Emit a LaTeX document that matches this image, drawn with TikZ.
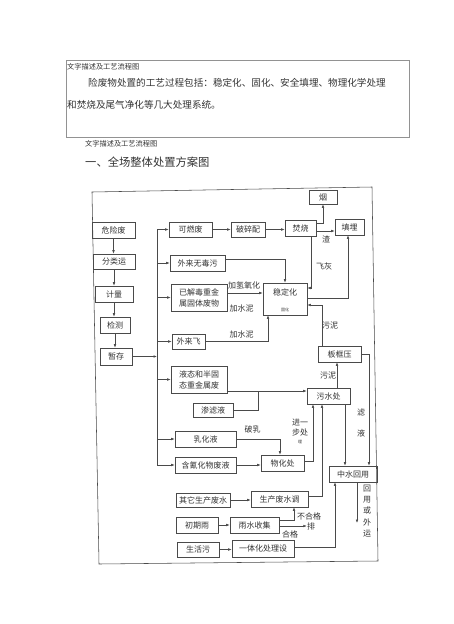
\documentclass[tikz,border=0pt]{standalone}
\usepackage{fontspec}
\newfontfamily\cjk{Noto Sans CJK SC}
\usetikzlibrary{arrows.meta}
\definecolor{ink}{HTML}{4A4A4A}
\definecolor{txt}{HTML}{333333}
\tikzset{
  bx/.style={draw=ink, line width=0.6pt, inner sep=0pt, text=txt, font=\cjk\fontsize{8}{11}\selectfont, align=center},
  ln/.style={draw=ink, line width=0.55pt},
  arr/.style={ln, -{Latex[length=3.5pt,width=2.6pt]}},
  lbl/.style={inner sep=0pt, text=txt, font=\cjk\fontsize{8}{10}\selectfont, align=center},
}
\begin{document}
\begin{tikzpicture}[x=1pt,y=-1pt]
\fill[white] (0,0) rectangle (454,624);
\useasboundingbox (0,0) rectangle (454,624);

% top text box
\draw[draw=ink!60, line width=0.6pt] (66,60) rectangle (409,137);
\node[lbl, anchor=west, font=\cjk\fontsize{7.2}{8}\selectfont] (cap1) at (67,67) {文字描述及工艺流程图};
\node[lbl, anchor=west, font=\cjk\fontsize{9.6}{12}\selectfont] (para1) at (88,83) {险废物处置的工艺过程包括：稳定化、固化、安全填埋、物理化学处理};
\node[lbl, anchor=west, font=\cjk\fontsize{9.6}{12}\selectfont] (para2) at (67,105) {和焚烧及尾气净化等几大处理系统。};
\node[lbl, anchor=west, font=\cjk\fontsize{7.2}{8}\selectfont] (cap2) at (85,144) {文字描述及工艺流程图};
\node[lbl, anchor=west, font=\cjk\fontsize{11.3}{13}\selectfont] (head) at (85,162) {一、全场整体处置方案图};

% outer frame
\draw[ln] (92,192) -- (372,187) -- (378,561) -- (99,564) -- cycle;

% left column
\node[bx, minimum width=43, minimum height=16] (wxf) at (113.5,230) {危险废};
\node[bx, minimum width=42, minimum height=15] (flx) at (114,261.5) {分类运};
\node[bx, minimum width=38, minimum height=16] (jl) at (114,294) {计量};
\node[bx, minimum width=30, minimum height=16] (jc) at (115,325) {检测};
\node[bx, minimum width=32, minimum height=17] (zc) at (116,356.5) {暂存};

% branches
\node[bx, minimum width=43, minimum height=15] (krf) at (190.5,229.5) {可燃废};
\node[bx, minimum width=34, minimum height=15] (psp) at (248,229.5) {破碎配};
\node[bx, minimum width=31, minimum height=16] (fs) at (300.5,228) {焚烧};
\node[bx, minimum width=28, minimum height=14] (yan) at (323,197) {烟};
\node[bx, minimum width=29, minimum height=16] (tm) at (349.5,227) {填埋};
\node[bx, minimum width=55, minimum height=16] (wlw) at (197.5,263) {外来无毒污};
\node[bx, minimum width=56, minimum height=27] (yjd) at (199,297.5) {已解毒重金\\属固体废物};
\node[bx, minimum width=44, minimum height=32] (wdh) at (285,299) {};
\node[lbl] (wdht) at (285,292) {稳定化};
\node[lbl, font=\cjk\fontsize{4}{5}\selectfont] (wdhs) at (285,310) {固化};
\node[bx, minimum width=33, minimum height=15] (wlf) at (188.5,341.5) {外来飞};
\node[bx, minimum width=43, minimum height=16] (bkya) at (339.5,354) {板框压};
\node[bx, minimum width=56, minimum height=27] (yt) at (199,379.5) {液态和半固\\态重金属废};
\node[bx, minimum width=40, minimum height=14] (sll) at (213,410) {渗滤液};
\node[bx, minimum width=43, minimum height=16] (wsc) at (328.5,396) {污水处};
\node[bx, minimum width=61, minimum height=16] (rhy) at (205.5,439) {乳化液};
\node[bx, minimum width=61, minimum height=16] (hq) at (205.5,465) {含氰化物废液};
\node[bx, minimum width=43, minimum height=16] (whc) at (282.5,463) {物化处};
\node[bx, minimum width=48, minimum height=16] (zs) at (353,474) {中水回用};
\node[bx, minimum width=54, minimum height=14] (qt) at (203,500) {其它生产废水};
\node[bx, minimum width=57, minimum height=16] (scfs) at (279.5,499) {生产废水调};
\node[bx, minimum width=42, minimum height=16] (cqy) at (197,525) {初期雨};
\node[bx, minimum width=49, minimum height=16] (ysj) at (254.5,525) {雨水收集};
\node[bx, minimum width=42, minimum height=15] (shw) at (198,549.5) {生活污};
\node[bx, minimum width=62, minimum height=17] (ytz) at (263,548.5) {一体化处理设};

% labels
\node[lbl] (l1) at (244,285.5) {加氢氧化};
\node[lbl] (l2) at (241.5,308) {加水泥};
\node[lbl] (l3) at (241.5,334) {加水泥};
\node[lbl] (l4) at (326,239.5) {渣};
\node[lbl] (l5) at (324,266) {飞灰};
\node[lbl] (l6) at (330,326) {污泥};
\node[lbl] (l7) at (328,376) {污泥};
\node[lbl] (l8) at (361,412) {滤};
\node[lbl] (l9) at (361,433) {液};
\node[lbl] (l10) at (252.5,429) {破乳};
\node[lbl] (l11) at (300,428) {进一\\步处};
\node[lbl, font=\cjk\fontsize{4}{5}\selectfont] (l12) at (300,442) {理};
\node[lbl] (l13) at (309,516) {不合格};
\node[lbl] (pai) at (311,526) {排};
\node[lbl] (l14) at (290,534) {合格};
\node[lbl, font=\cjk\fontsize{8}{11.2}\selectfont] (l15) at (367,511) {回\\用\\或\\外\\运};

% coordinates
\coordinate (bT) at (157,229.5);
\coordinate (bB) at (157,465);
\coordinate (jn) at (258,391);
\coordinate (out) at (357,523);

% left column arrows
\draw[arr] (wxf.south) -- (wxf.south |- flx.north);
\draw[arr] (flx.south) -- (flx.south |- jl.north);
\draw[arr] (jl.south) -- (jl.south |- jc.north);
\draw[arr] (jc.south) -- (jc.south |- zc.north);
\draw[arr] (zc.east) -- (zc.east -| bT);

% bus
\draw[ln] (bT) -- (bB);
\draw[arr] (bT |- krf.west) -- (krf.west);
\draw[arr] (bT |- wlw.west) -- (wlw.west);
\draw[arr] (bT |- yjd.west) -- (yjd.west);
\draw[arr] (bT |- wlf.west) -- (wlf.west);
\draw[arr] (bT |- yt.west) -- (yt.west);
\draw[arr] (bT |- rhy.west) -- (rhy.west);
\draw[arr] (bT |- hq.west) -- (hq.west);

% incineration line
\draw[arr] (krf.east) -- (psp.west);
\draw[arr] (psp.east) -- (fs.west |- psp.east);
\draw[arr] (fs.east |- 0,223) -| (yan.south);
\draw[arr] (fs.east |- 0,231) -- (tm.west |- 0,231);
\draw[arr] (fs.south -| 311,0) |- (wdh.east |- 0,288);

% stabilisation
\draw[arr] (wlw.east |- 0,259) -| (wdh.north);
\draw[arr] (yjd.east |- 0,293) -- (wdh.west |- 0,293);
\draw[arr] (wlf.east) -| (wdh.south -| 268,0);
\draw[arr] (wdh.east |- 0,298) -| (tm.south -| 348,0);
\draw[arr] (bkya.north -| 322,0) |- (wdh.east |- 0,305);

% waste water
\draw[arr] (yt.east |- jn) -- (wsc.west |- jn);
\draw[ln] (sll.east) -| (jn);
\draw[arr] (wsc.north -| 337,0) -- (bkya.south -| 337,0);
\draw[arr] (bkya.east) -| (zs.north -| 369,0);
\draw[arr] (wsc.south -| 345,0) -- (zs.north -| 345,0);
\draw[arr] (rhy.east) -| (whc.north -| 280,0);
\draw[arr] (hq.east) -- (whc.west |- hq.east);
\draw[arr] (whc.east |- 0,461) -| (wsc.south -| 313,0);
\draw[arr] (scfs.east |- 0,496) -| (wsc.south -| 322,0);
\draw[arr] (qt.east) -- (scfs.west |- qt.east);
\draw[arr] (cqy.east) -- (ysj.west);
\draw[arr] (ysj.east |- 0,520) -| (scfs.south -| 294,0);
\draw[arr] (ysj.east |- 0,526) -- (pai.west);
\draw[arr] (shw.east) -- (ytz.west |- shw.east);
\draw[arr] (ytz.east |- 0,547) -| (zs.south -| 335,0);
\draw[arr] (zs.south -| out) -- (out);
\end{tikzpicture}
\end{document}
